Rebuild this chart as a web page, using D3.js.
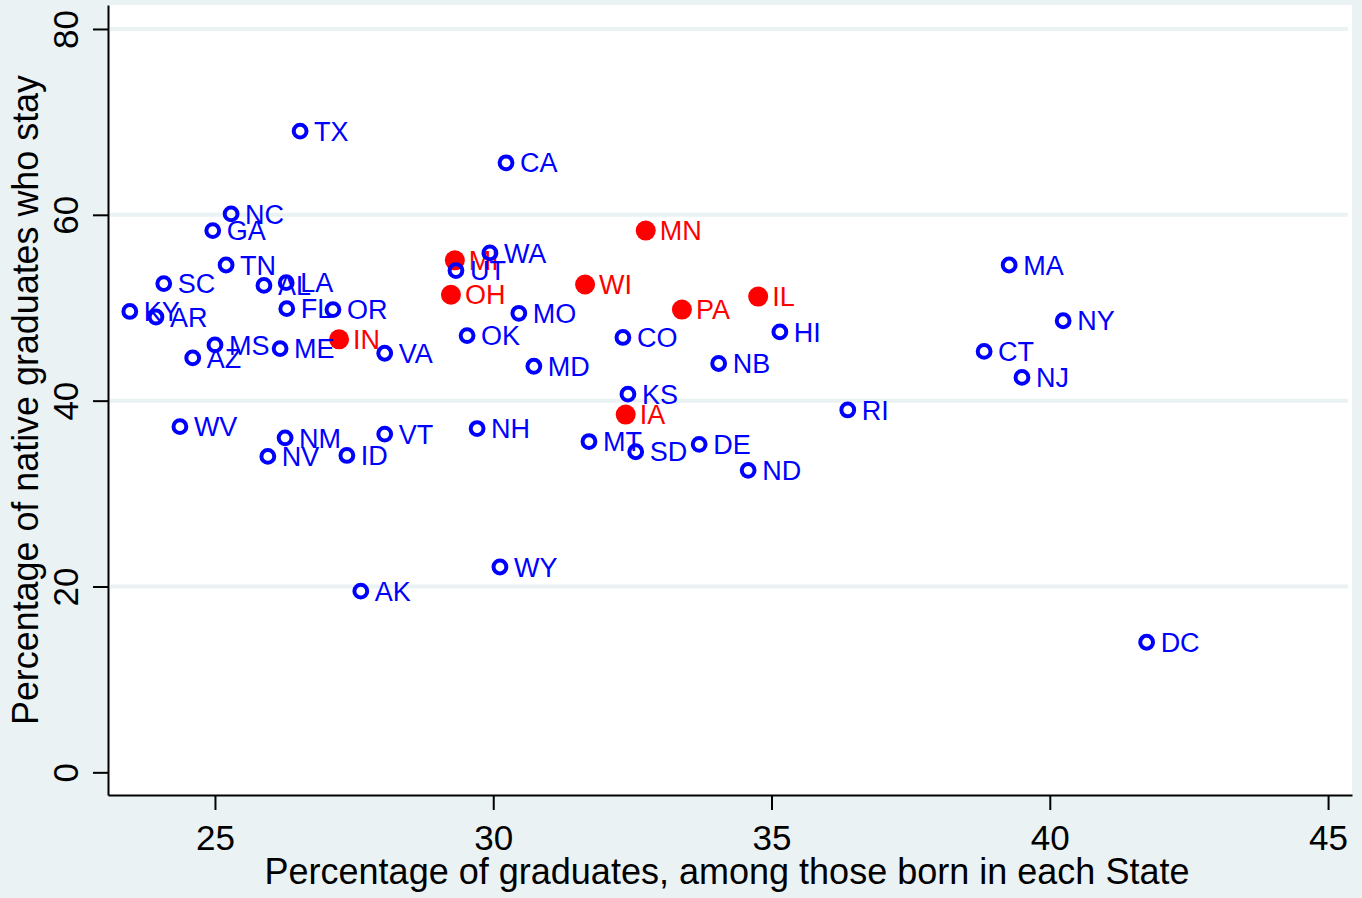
<!DOCTYPE html>
<html>
<head>
<meta charset="utf-8">
<script src="https://cdnjs.cloudflare.com/ajax/libs/d3/7.8.5/d3.min.js"></script>
<style>
  html, body { margin: 0; padding: 0; background: #EAF2F3; }
  svg { display: block; }
  text { font-family: Arial, "Liberation Sans", sans-serif; }
</style>
</head>
<body>
<div id="chart"></div>
<script>
// states in the highlighted group (red, filled)
var redStates = ['MN', 'MI', 'WI', 'OH', 'IL', 'PA', 'IN', 'IA'];
var redX      = [32.74, 29.31, 31.65, 29.24, 34.76, 33.39, 27.23, 32.38];
var redY      = [58.3, 55.1, 52.5, 51.4, 51.2, 49.8, 46.6, 38.5];

// all other states (blue, hollow)
var blueStates = ['TX', 'CA', 'NC', 'GA', 'TN', 'WA', 'UT', 'MA', 'SC', 'AL',
                  'LA', 'KY', 'AR', 'FL', 'OR', 'MO', 'NY', 'HI', 'OK', 'CO',
                  'MS', 'ME', 'VA', 'CT', 'AZ', 'NB', 'MD', 'NJ', 'KS', 'RI',
                  'WV', 'NH', 'VT', 'NM', 'MT', 'DE', 'SD', 'ID', 'NV', 'ND',
                  'WY', 'AK', 'DC'];
var blueX = [26.53, 30.23, 25.29, 24.96, 25.20, 29.94, 29.33, 39.27, 24.08, 25.88,
             26.28, 23.47, 23.94, 26.29, 27.12, 30.46, 40.24, 35.15, 29.53, 32.33,
             25.00, 26.17, 28.05, 38.82, 24.60, 34.05, 30.73, 39.50, 32.42, 36.37,
             24.37, 29.71, 28.05, 26.26, 31.72, 33.70, 32.56, 27.37, 25.95, 34.58,
             30.12, 27.62, 41.74];
var blueY = [69.0, 65.6, 60.1, 58.3, 54.6, 55.9, 54.0, 54.6, 52.6, 52.4,
             52.7, 49.6, 49.0, 49.9, 49.8, 49.4, 48.6, 47.4, 47.0, 46.8,
             46.0, 45.6, 45.1, 45.3, 44.6, 44.0, 43.7, 42.5, 40.7, 39.0,
             37.2, 37.0, 36.4, 36.0, 35.6, 35.3, 34.5, 34.1, 34.0, 32.5,
             22.1, 19.5, 14.0];

var xTicks = [25, 30, 35, 40, 45];
var yTicks = [0, 20, 40, 60, 80];
var gridTicks = [20, 40, 60, 80];

var xTitle = 'Percentage of graduates, among those born in each State';
var yTitle = 'Percentage of native graduates who stay';

var width = 1362, height = 898;
var plot = { left: 108, right: 1352, top: 5, bottom: 795 };

var svg = d3.select('#chart').append('svg')
    .attr('width', width)
    .attr('height', height);

svg.append('rect')
    .attr('width', width).attr('height', height)
    .attr('fill', '#EAF2F3');

svg.append('rect')
    .attr('x', plot.left).attr('y', plot.top)
    .attr('width', plot.right - plot.left)
    .attr('height', plot.bottom - plot.top)
    .attr('fill', '#ffffff');

var x = d3.scaleLinear().domain([23.078, 45.43]).range([plot.left, plot.right]);
var y = d3.scaleLinear().domain([-2.44, 82.58]).range([plot.bottom, plot.top]);

// horizontal grid
svg.append('g').selectAll('line')
    .data(gridTicks)
    .enter().append('line')
    .attr('x1', plot.left + 2).attr('x2', plot.right - 4)
    .attr('y1', function(d) { return y(d); })
    .attr('y2', function(d) { return y(d); })
    .attr('stroke', '#EAF2F3')
    .attr('stroke-width', 4);

// x axis
var xAxis = svg.append('g')
    .attr('transform', 'translate(0,' + plot.bottom + ')')
    .call(d3.axisBottom(x).tickValues(xTicks).tickSize(15).tickSizeOuter(0));
xAxis.select('.domain').attr('stroke', '#000').attr('stroke-width', 2);
xAxis.selectAll('.tick line').attr('stroke', '#000').attr('stroke-width', 2);
xAxis.selectAll('.tick text')
    .attr('y', 55).attr('dy', 0)
    .attr('font-size', 35)
    .attr('fill', '#000')
    .style('font-family', 'Arial, "Liberation Sans", sans-serif');

// y axis
var yAxis = svg.append('g')
    .attr('transform', 'translate(' + plot.left + ',0)')
    .call(d3.axisLeft(y).tickValues(yTicks).tickSize(15).tickSizeOuter(0));
yAxis.select('.domain').attr('stroke', '#000').attr('stroke-width', 2);
yAxis.selectAll('.tick line').attr('stroke', '#000').attr('stroke-width', 2);
yAxis.selectAll('.tick text')
    .attr('transform', 'rotate(-90)')
    .attr('x', 0).attr('y', -30).attr('dy', 0)
    .attr('text-anchor', 'middle')
    .attr('font-size', 35)
    .attr('fill', '#000')
    .style('font-family', 'Arial, "Liberation Sans", sans-serif');

// axis titles
svg.append('text')
    .attr('x', (plot.left + plot.right) / 2 - 3)
    .attr('y', 884)
    .attr('text-anchor', 'middle')
    .attr('font-size', 36)
    .attr('textLength', 925)
    .attr('lengthAdjust', 'spacingAndGlyphs')
    .attr('fill', '#000')
    .text(xTitle);

svg.append('text')
    .attr('transform', 'translate(38,' + ((plot.top + plot.bottom) / 2) + ') rotate(-90)')
    .attr('text-anchor', 'middle')
    .attr('font-size', 36)
    .attr('textLength', 650)
    .attr('lengthAdjust', 'spacingAndGlyphs')
    .attr('fill', '#000')
    .text(yTitle);

function drawSeries(names, xs, ys, color, filled) {
  var data = names.map(function(n, i) { return { name: n, x: xs[i], y: ys[i] }; });
  var g = svg.append('g');
  g.selectAll('circle')
      .data(data)
      .enter().append('circle')
      .attr('cx', function(d) { return x(d.x); })
      .attr('cy', function(d) { return y(d.y); })
      .attr('r', filled ? 10 : 6.4)
      .attr('fill', filled ? color : 'none')
      .attr('stroke', filled ? 'none' : color)
      .attr('stroke-width', 4);
  g.selectAll('text')
      .data(data)
      .enter().append('text')
      .attr('x', function(d) { return x(d.x) + 14; })
      .attr('y', function(d) { return y(d.y); })
      .attr('dy', '0.36em')
      .attr('font-size', 27)
      .attr('fill', color)
      .text(function(d) { return d.name; });
}

drawSeries(redStates, redX, redY, '#FF0000', true);
drawSeries(blueStates, blueX, blueY, '#0000FF', false);
</script>
</body>
</html>
